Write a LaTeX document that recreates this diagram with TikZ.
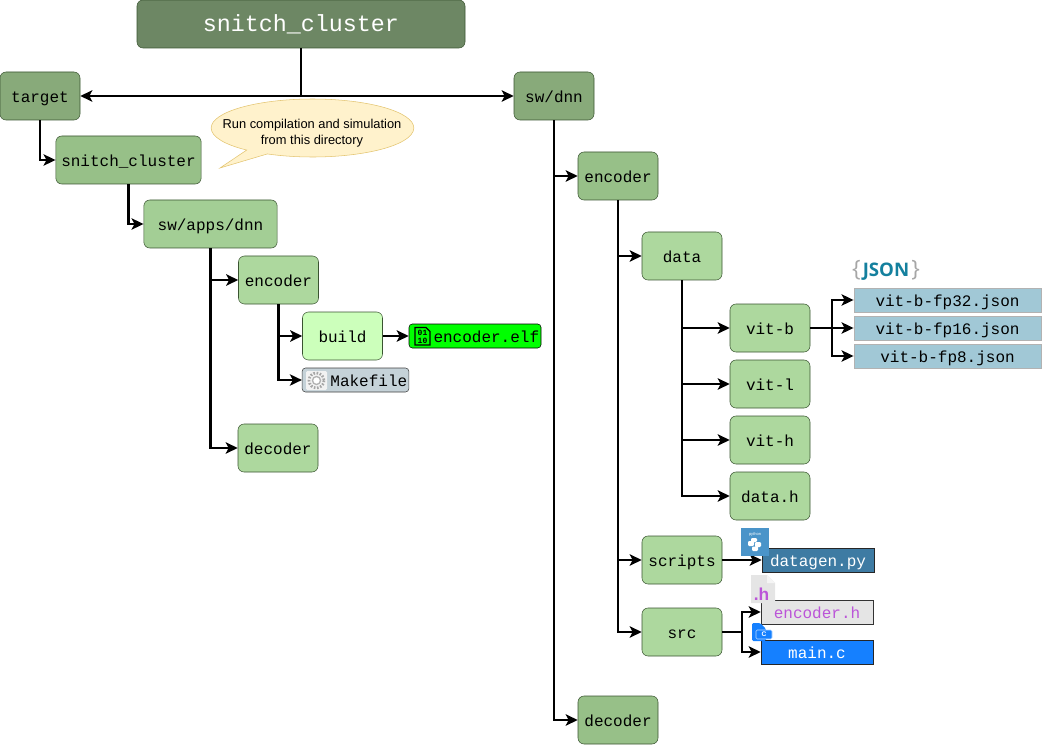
\documentclass[tikz,border=0pt]{standalone}
\usepackage{fontspec}
\setmainfont{Liberation Sans}
\setmonofont{Liberation Mono}
\newfontfamily\jsonfont{Open Sans}
\usetikzlibrary{arrows.meta,shapes.callouts}
\definecolor{rootgreen}{HTML}{6D8764}
\definecolor{toplevel}{HTML}{88AA7A}
\definecolor{midlevel}{HTML}{97C088}
\definecolor{lowlevel}{HTML}{A3CE95}
\definecolor{leaflevel}{HTML}{ADD89E}
\definecolor{edgegreen}{HTML}{3A5431}
\definecolor{buildgreen}{HTML}{CCFFBB}
\definecolor{makegray}{HTML}{C5D2D8}
\definecolor{jsonblue}{HTML}{A1C8D6}
\definecolor{pyblue}{HTML}{3E7BA3}
\definecolor{iconblue}{HTML}{4A94C9}
\definecolor{cblue}{HTML}{1580FF}
\definecolor{hpurple}{HTML}{BB55D8}
\definecolor{jsonteal}{HTML}{14809E}
\definecolor{notefill}{HTML}{FFF2CC}
\definecolor{noteedge}{HTML}{E3C46F}
\tikzset{
  folder/.style={draw=edgegreen,rounded corners=4.5pt,minimum width=60pt,minimum height=36pt,
    inner sep=0pt,text height=10pt,text depth=0pt,font=\ttfamily\fontsize{12}{14}\selectfont,text=black},
  filebox/.style={draw=#1,minimum height=18pt,inner sep=0pt,text height=10pt,text depth=0pt,
    font=\ttfamily\fontsize{12}{14}\selectfont,text=black},
  filebox/.default=black,
  link/.style={line width=1.7pt,-{Stealth[length=9pt,width=8.5pt,inset=2.2pt]}},
  trunk/.style={line width=1.7pt},
}
\begin{document}
\begin{tikzpicture}[x=0.75pt,y=-0.75pt]
  \useasboundingbox (0,0) rectangle (1042,745);
  %Root
  \node[folder,fill=rootgreen,minimum width=246pt,text=white,text height=12pt,
    font=\ttfamily\fontsize{17.5}{20}\selectfont] (root) at (301,24) {snitch\_cluster};
  \coordinate (rootfork) at (301,96);
  %Left tree
  \node[folder,fill=toplevel] (target) at (40,96) {target};
  \node[folder,fill=midlevel,minimum width=109pt] (snitch) at (128.5,160) {snitch\_cluster};
  \node[folder,fill=lowlevel,minimum width=100pt] (apps) at (210.5,224) {sw/apps/dnn};
  \node[folder,fill=leaflevel] (leftenc) at (278.5,280) {encoder};
  \node[folder,fill=buildgreen] (build) at (342.5,336) {build};
  \node[filebox,fill=green,rounded corners=2.5pt,minimum width=99pt] (elf) at (475,336) {\hspace{17pt}encoder.elf};
  \node[filebox=black!75,fill=makegray,rounded corners=2.5pt,minimum width=80pt] (make) at (355.5,380) {\hspace{20pt}Makefile};
  \node[folder,fill=leaflevel] (leftdec) at (278,448) {decoder};
  %Right tree
  \node[folder,fill=toplevel] (swdnn) at (554,96) {sw/dnn};
  \node[folder,fill=midlevel] (rightenc) at (618,176) {encoder};
  \node[folder,fill=leaflevel] (data) at (682,256) {data};
  \node[folder,fill=leaflevel] (vitb) at (770,328) {vit-b};
  \node[folder,fill=leaflevel] (vitl) at (770,384) {vit-l};
  \node[folder,fill=leaflevel] (vith) at (770,440) {vit-h};
  \node[folder,fill=leaflevel] (datah) at (770,496) {data.h};
  \node[folder,fill=leaflevel] (scripts) at (682,560) {scripts};
  \node[folder,fill=leaflevel] (src) at (682,632) {src};
  \node[folder,fill=midlevel] (rightdec) at (618,720) {decoder};
  %Files
  \node[filebox=black!30,fill=jsonblue,minimum width=140.5pt] (fpA) at (947.5,300) {vit-b-fp32.json};
  \node[filebox=black!30,fill=jsonblue,minimum width=140.5pt] (fpB) at (947.5,328) {vit-b-fp16.json};
  \node[filebox=black!30,fill=jsonblue,minimum width=140.5pt] (fpC) at (947.5,356) {vit-b-fp8.json};
  \coordinate (jsonfork) at (832,328);
  \node[filebox=black!85,fill=pyblue,text=white,minimum width=84pt] (datagen) at (818,560) {datagen.py};
  \node[filebox=black!80,fill=black!10,text=hpurple,minimum width=84pt] (ench) at (817,612) {encoder.h};
  \node[filebox=black!85,fill=cblue,text=white,minimum width=84pt] (mainc) at (817,652) {main.c};
  \coordinate (srcfork) at (742,632);
  %Note
  \node[ellipse callout,draw=noteedge,fill=notefill,minimum width=152pt,minimum height=43.5pt,
    inner sep=0pt,callout absolute pointer={(220,168)},callout pointer arc=14] (note) at (312.5,128) {};
  \node[inner sep=0pt,align=center,font=\fontsize{9.65}{12}\selectfont] (notetext) at (312,133.5) {Run compilation and simulation\\from this directory};
  %Connectors
  \draw[trunk] (root.south) -- (rootfork);
  \draw[link] (rootfork) -- (target.east);
  \draw[link] (rootfork) -- (swdnn.west);
  \draw[link] (target.south) |- (snitch.west);
  \draw[link] (snitch.south) |- (apps.west);
  \draw[link] (apps.south) |- (leftenc.west);
  \draw[link] (apps.south) |- (leftdec.west);
  \draw[link] (leftenc.south) |- (build.west);
  \draw[link] (leftenc.south) |- (make.west);
  \draw[link] (build.east) -- (elf.west);
  \draw[link] (swdnn.south) |- (rightenc.west);
  \draw[link] (swdnn.south) |- (rightdec.west);
  \draw[link] (rightenc.south) |- (data.west);
  \draw[link] (rightenc.south) |- (scripts.west);
  \draw[link] (rightenc.south) |- (src.west);
  \draw[link] (data.south) |- (vitb.west);
  \draw[link] (data.south) |- (vitl.west);
  \draw[link] (data.south) |- (vith.west);
  \draw[link] (data.south) |- (datah.west);
  \draw[trunk] (vitb.east) -- (jsonfork);
  \draw[link] (jsonfork) |- (fpA.west);
  \draw[link] (jsonfork) -- (fpB.west);
  \draw[link] (jsonfork) |- (fpC.west);
  \draw[link] (scripts.east) -- (datagen.west);
  \draw[trunk] (src.east) -- (srcfork);
  \draw[link] (srcfork) |- (ench.west);
  \draw[link] (srcfork) |- (mainc.west);
  %JSON logo
  \node[inner sep=0pt,font=\jsonfont\fontsize{14}{18}\selectfont] (jsonlogo) at (886,270.5)
    {\textcolor{black!35}{\fontsize{17}{18}\selectfont\{}\hspace{1.5pt}\textcolor{jsonteal}{\textbf{JSON}}\hspace{1.5pt}\textcolor{black!35}{\fontsize{17}{18}\selectfont\}}};
  %Python icon
  \fill[iconblue] (741,528) rectangle (769,556);
  \node[inner sep=0pt,text=white,font=\fontsize{3}{3}\selectfont] (pylabel) at (755,534) {python};
  \fill[white,rounded corners=0.8pt] (751,538) rectangle (757,542) (748,541) rectangle (754,546);
  \fill[white,rounded corners=0.8pt] (755,542) rectangle (761,547) (752,546.5) rectangle (758,551);
  %Header icon
  \fill[black!10] (751,575) -- (767,575) -- (775,583) -- (775,603) -- (751,603) -- cycle;
  \fill[black!4] (767,575) -- (775,583) -- (767,583) -- cycle;
  \node[anchor=base west,inner sep=0pt,text=hpurple,font=\fontsize{13}{13}\bfseries\selectfont] (hlabel) at (753.5,600) {.h};
  %C icon
  \fill[cblue,rounded corners=1pt] (752,623) -- (760,623) -- (766,629) -- (766,641) -- (752,641) -- cycle;
  \fill[cblue,rounded corners=1pt,draw=white!70!cblue,line width=0.4pt] (756,630) rectangle (772,639);
  \node[inner sep=0pt,text=white,font=\fontsize{5}{5}\bfseries\selectfont] (clabel) at (764,634.5) {C};
  %Gear icon
  \fill[black!5,rounded corners=1pt] (306,371) rectangle (327,390);
  \draw[black!35,line width=2pt,dash pattern=on 1.2pt off 1.2pt] (316.5,380.5) circle[radius=7.5];
  \draw[black!30,line width=1pt,fill=white] (316.5,380.5) circle[radius=4];
  %Binary icon
  \draw[line width=0.9pt,fill=green] (415,327.5) -- (426,327.5) -- (430,331.5) -- (430,345) -- (415,345) -- cycle;
  \node[inner sep=0pt,align=center,font=\ttfamily\bfseries\fontsize{6}{6.5}\selectfont] (binlabel) at (422.5,337) {01\\10};
\end{tikzpicture}
\end{document}
